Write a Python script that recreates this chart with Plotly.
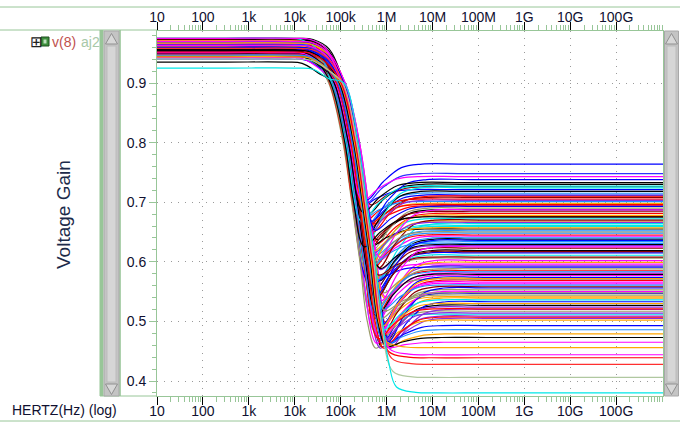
import numpy as np
import plotly.graph_objects as go

# ---------------- data ----------------
tick_vals = [1e1, 1e2, 1e3, 1e4, 1e5, 1e6, 1e7, 1e8, 1e9, 1e10, 1e11]
tick_text = ["10", "100", "1k", "10k", "100k", "1M", "10M", "100M", "1G", "10G", "100G"]
y_ticks = [0.4, 0.5, 0.6, 0.7, 0.8, 0.9]

# low-frequency gain of each Monte Carlo run
lf_gain = [0.962, 0.951, 0.970, 0.947, 0.958, 0.966, 0.944, 0.973, 0.955, 0.949,
           0.968, 0.960, 0.952, 0.975, 0.946, 0.964, 0.957, 0.950, 0.971, 0.961,
           0.953, 0.967, 0.945, 0.959, 0.972, 0.948, 0.963, 0.956, 0.969, 0.951,
           0.940, 0.965, 0.954, 0.974, 0.947, 0.961, 0.958, 0.966, 0.950, 0.970,
           0.957, 0.944, 0.963, 0.952, 0.968, 0.960, 0.949, 0.973, 0.955, 0.962,
           0.946, 0.969, 0.959, 0.935, 0.964, 0.953, 0.971, 0.948, 0.957, 0.966,
           0.951, 0.974, 0.962, 0.945, 0.958, 0.967, 0.954, 0.970, 0.949, 0.961,
           0.956, 0.965, 0.943, 0.972, 0.952, 0.960, 0.968, 0.947, 0.963, 0.955,
           0.957, 0.959, 0.966, 0.950, 0.971, 0.975, 0.946, 0.964, 0.953, 0.969,
           0.961, 0.948, 0.975, 0.956, 0.962,
           0.958, 0.965, 0.951, 0.969, 0.954,
           0.960, 0.947, 0.967, 0.955, 0.963, 0.944, 0.970, 0.952, 0.958, 0.940, 0.925]

# high-frequency plateau gain of each run
hf_gain = [0.712, 0.585, 0.643, 0.527, 0.698, 0.611, 0.553, 0.676, 0.505, 0.634,
           0.721, 0.569, 0.602, 0.687, 0.541, 0.659, 0.517, 0.726, 0.593, 0.648,
           0.533, 0.705, 0.577, 0.619, 0.668, 0.512, 0.690, 0.558, 0.627, 0.715,
           0.547, 0.681, 0.596, 0.638, 0.502, 0.664, 0.571, 0.708, 0.524, 0.652,
           0.615, 0.694, 0.563, 0.730, 0.539, 0.672, 0.588, 0.623, 0.509, 0.701,
           0.556, 0.645, 0.581, 0.718, 0.530, 0.661, 0.606, 0.684, 0.520, 0.631,
           0.574, 0.696, 0.550, 0.655, 0.599, 0.724, 0.544, 0.670, 0.514, 0.640,
           0.591, 0.710, 0.566, 0.629, 0.678, 0.536, 0.650, 0.608, 0.703, 0.561,
           0.636, 0.521, 0.687, 0.579, 0.657, 0.727, 0.548, 0.617, 0.666, 0.583,
           0.693, 0.507, 0.625, 0.675, 0.572,
           0.764, 0.748, 0.743, 0.738, 0.733,
           0.493, 0.486, 0.479, 0.473, 0.465, 0.456, 0.444, 0.439, 0.428, 0.406, 0.380]

# depth of the undershoot below the plateau (0 = monotone settle)
dip_depth = [0.05, 0.08, 0.04, 0.07, 0.03, 0.09, 0.06, 0.05, 0.04, 0.08,
             0.03, 0.07, 0.10, 0.05, 0.06, 0.04, 0.08, 0.03, 0.09, 0.05,
             0.07, 0.04, 0.06, 0.08, 0.05, 0.03, 0.07, 0.09, 0.04, 0.06,
             0.08, 0.05, 0.03, 0.07, 0.04, 0.09, 0.06, 0.05, 0.08, 0.04,
             0.07, 0.03, 0.10, 0.05, 0.06, 0.08, 0.04, 0.07, 0.05, 0.03,
             0.09, 0.06, 0.04, 0.08, 0.05, 0.07, 0.03, 0.06, 0.09, 0.04,
             0.08, 0.05, 0.07, 0.03, 0.06, 0.10, 0.04, 0.08, 0.05, 0.07,
             0.03, 0.06, 0.09, 0.04, 0.08, 0.05, 0.07, 0.03, 0.06, 0.04,
             0.09, 0.05, 0.08, 0.07, 0.04, 0.06, 0.03, 0.08, 0.05, 0.07,
             0.04, 0.06, 0.09, 0.05, 0.08,
             0.06, 0.05, 0.04, 0.07, 0.05,
             0.03, 0.025, 0.02, 0.015, 0.008, 0.0, 0.0, 0.0, 0.0, 0.0, 0.0]

# horizontal offset (decades) of each run's roll-off
fall_shift = [0.02, -0.10, 0.14, -0.04, 0.08, -0.16, 0.05, -0.07, 0.18, 0.00,
              -0.12, 0.10, -0.02, 0.15, -0.08, 0.06, -0.18, 0.12, -0.05, 0.03,
              0.16, -0.11, 0.07, -0.01, 0.11, -0.14, 0.04, -0.06, 0.13, -0.09,
              0.01, 0.17, -0.13, 0.09, -0.03, 0.14, -0.17, 0.06, -0.08, 0.10,
              -0.04, 0.12, -0.15, 0.03, 0.08, -0.10, 0.15, -0.02, 0.05, -0.12,
              0.11, -0.06, 0.18, -0.09, 0.02, -0.14, 0.07, -0.01, 0.13, -0.07,
              0.04, -0.16, 0.09, -0.03, 0.16, -0.11, 0.00, 0.12, -0.05, 0.06,
              -0.13, 0.10, -0.08, 0.14, -0.02, 0.05, -0.15, 0.08, -0.04, 0.11,
              0.03, -0.10, 0.17, -0.06, 0.01, -0.12, 0.13, -0.03, 0.07, -0.09,
              0.15, -0.01, 0.09, -0.14, 0.04,
              0.06, 0.02, -0.04, 0.10, -0.06,
              0.08, 0.03, 0.12, 0.05, 0.10, 0.07, 0.11, 0.09, 0.13, 0.12, 0.15]

# nominal roll-off read from the bunch: log10(f) where the gain passes each level
fall_logf = [3.90, 4.25, 4.60, 4.92, 5.23, 5.42, 5.60, 5.76, 5.90, 6.02]
fall_levels = [0.90, 0.80, 0.70, 0.60, 0.50, 0.43, 0.36]

# ---------------- styles ----------------
palette = ["#0000ff", "#ff0000", "#ff00ff", "#000000", "#ffa500",
           "#00e8e8", "#9a9a6a", "#8b0000", "#8a2be2", "#1e90ff"]
special_colors = {95: "#0000ff", 96: "#3030ff", 97: "#ff00ff", 98: "#0000ff", 99: "#000000",
                  100: "#0000ff", 101: "#1e90ff", 102: "#ffa500", 103: "#000000",
                  104: "#ff00ff", 105: "#ffa500", 106: "#ff00ff", 107: "#ff0000",
                  108: "#ff3030", 109: "#b0c8a0", 110: "#00e8e8"}
GREEN = "#98c698"
TXT = "#101030"
FONT = "Liberation Sans, Arial, sans-serif"


def run_knots(L, H, d, s):
    gains = [L, L - 0.002, L - 0.018] + fall_levels
    logs = [v + s for v in fall_logf]
    def pos(v):
        return float(np.interp(-v, [-g for g in gains], logs))
    D = max(H - d, 0.455) if d > 0 else H
    xs, ys = [1.0, 2.5], [L, L]
    for lx, g in zip(logs, gains):
        if g > D + 0.04:
            xs.append(lx)
            ys.append(g)
    if d > 0:
        fd = pos(D) + 0.10
        xs += [fd, fd + 0.35, fd + 0.75, fd + 1.2, fd + 2.2, 12.02]
        ys += [D, D + 0.5 * (H - D), D + 0.9 * (H - D), H, H, H]
    else:
        p = pos(H)
        xs += [p + 0.08, p + 0.5, p + 1.0, p + 2.0, 12.02]
        ys += [H + 0.01, H + 0.001, H, H, H]
    return [10 ** x for x in xs], ys


fig = go.Figure()
n = len(hf_gain)
for i in range(n):
    fx, fy = run_knots(lf_gain[i], hf_gain[i], dip_depth[i], fall_shift[i])
    col = special_colors.get(i, palette[i % len(palette)])
    fig.add_trace(go.Scatter(x=fx, y=fy, mode="lines",
                             line=dict(color=col, width=1.2, shape="spline", smoothing=1.0),
                             showlegend=False, hoverinfo="skip"))

# invisible trace to carry the top axis
fig.add_trace(go.Scatter(x=[10, 1e12], y=[None, None], xaxis="x2", mode="lines",
                         showlegend=False, hoverinfo="skip"))

xcommon = dict(type="log", range=[1, 12.02], tickvals=tick_vals, ticktext=tick_text,
               showline=True, linecolor=GREEN, linewidth=1, automargin=False,
               ticks="outside", ticklen=8, tickcolor="#000000", tickwidth=1,
               ticklabelstandoff=-6,
               tickfont=dict(family=FONT, size=14, color=TXT),
               minor=dict(ticks="outside", ticklen=5, tickcolor=GREEN, dtick="D1", showgrid=False),
               zeroline=False)

fig.update_layout(
    width=680, height=423,
    margin=dict(l=157, r=17, t=31, b=27, autoexpand=False),
    paper_bgcolor="white", plot_bgcolor="white",
    xaxis=dict(**xcommon, showgrid=True, gridcolor="#9a9a9a", griddash="1px,6px", gridwidth=1),
    xaxis2=dict(**xcommon, overlaying="x", side="top", anchor="y", matches="x", showgrid=False),
    yaxis=dict(range=[0.37483, 0.98725], tickvals=y_ticks, ticktext=[str(v) for v in y_ticks],
               showline=True, linecolor=GREEN, linewidth=1, mirror=True, automargin=False,
               ticks="outside", ticklen=7, tickcolor=GREEN,
               tickfont=dict(family=FONT, size=14, color=TXT),
               minor=dict(ticks="outside", ticklen=4, tickcolor=GREEN, dtick=0.02, showgrid=False),
               showgrid=True, gridcolor="#9a9a9a", griddash="1px,6px", gridwidth=1,
               zeroline=False),
)

pl, pt, pw, ph = 157.0, 31.0, 506.0, 365.0


def px(x):
    return (x - pl) / pw


def py(y):
    return 1 - (y - pt) / ph


shapes = []
def line(x0, y0, x1, y1, color=GREEN, width=1):
    shapes.append(dict(type="line", xref="paper", yref="paper", x0=px(x0), y0=py(y0),
                       x1=px(x1), y1=py(y1), line=dict(color=color, width=width), layer="above"))


def rect(x0, y0, x1, y1, fill, lc=None, lw=0):
    shapes.append(dict(type="rect", xref="paper", yref="paper", x0=px(x0), y0=py(y0),
                       x1=px(x1), y1=py(y1), fillcolor=fill,
                       line=dict(color=lc or fill, width=lw), layer="above"))


def path(pts, fill, lc):
    d = "M " + " L ".join(f"{px(a)},{py(b)}" for a, b in pts) + " Z"
    shapes.append(dict(type="path", xref="paper", yref="paper", path=d, fillcolor=fill,
                       line=dict(color=lc, width=1), layer="above"))


# frame lines
line(0, 7, 680, 7)
line(0, 30, 157, 30)
line(100, 396, 157, 396)
line(0, 421, 680, 421)
rect(99.5, 30, 103.5, 396, GREEN)
rect(119.2, 30, 120.8, 396, GREEN)
# left scroll bar
rect(104, 31, 119, 396, "#c4c4c4", "#a8a8a8", 1)
rect(107, 46, 116, 382, "#d6d6d6", "#bcbcbc", 1)
path([(105.5, 44), (111.5, 33.5), (117.5, 44)], "#d8d8d8", "#909090")
path([(105.5, 384), (111.5, 394.5), (117.5, 384)], "#d8d8d8", "#909090")
# right scroll bar
rect(664.5, 31, 678.5, 396, "#c4c4c4", "#a8a8a8", 1)
rect(667, 46, 676, 382, "#d6d6d6", "#bcbcbc", 1)
path([(665.5, 44), (671.5, 33.5), (677.5, 44)], "#d8d8d8", "#909090")
path([(665.5, 384), (671.5, 394.5), (677.5, 384)], "#d8d8d8", "#909090")
# legend icon
rect(41, 37, 49, 46, "#3d8f3d", "#1f4f1f", 1)
rect(43.5, 39.5, 46.5, 43.5, "#bfe0bf")

fig.update_layout(shapes=shapes)

ann = []
def text(x, y, s, size=14, color=TXT, xanchor="left", angle=0):
    ann.append(dict(x=px(x), y=py(y), xref="paper", yref="paper", text=s, showarrow=False,
                    xanchor=xanchor, yanchor="middle", textangle=angle,
                    font=dict(family=FONT, size=size, color=color)))

text(28, 41.5, "⊞", size=15, color="#202020")
text(50, 42, "v(8)", color="#c0504d")
text(79, 42, "aj2", color="#a8c8a8")
text(63, 215, "Voltage Gain", size=19, color="#1c2a4a", xanchor="center", angle=-90)
text(10, 410, "HERTZ(Hz) (log)", size=14, color=TXT)
fig.update_layout(annotations=ann)

fig.write_html("out.html")
